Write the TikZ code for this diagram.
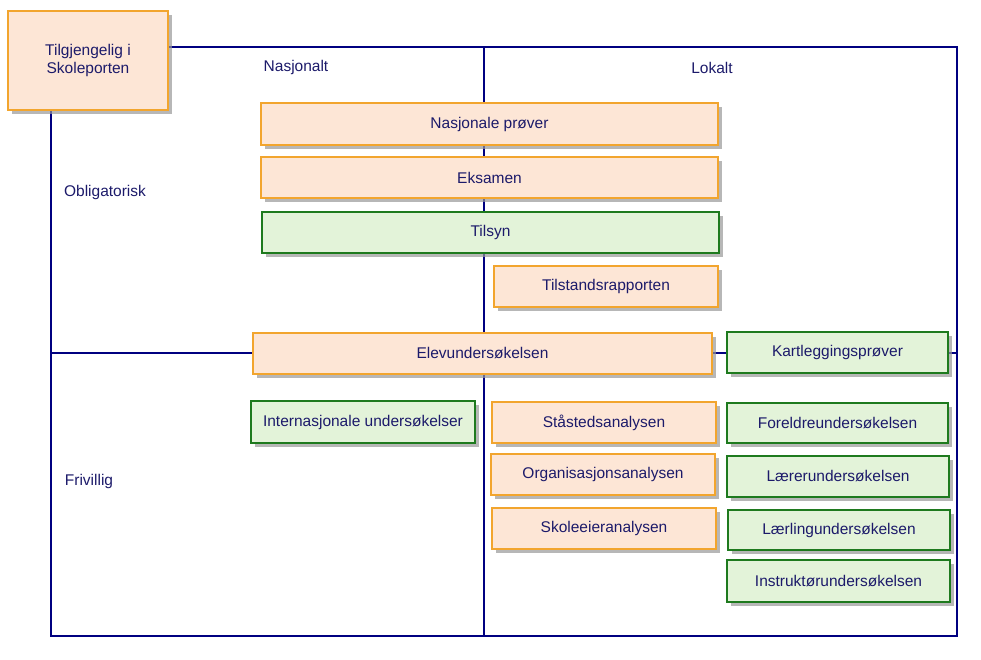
\documentclass[tikz,border=0pt]{standalone}
\usepackage{fontspec}
\setmainfont{Liberation Sans}
\usetikzlibrary{shadows}
\definecolor{navy}{HTML}{000080}
\definecolor{txt}{HTML}{1C1A6A}
\definecolor{ofill}{HTML}{FDE6D6}
\definecolor{oline}{HTML}{F2A52E}
\definecolor{gfill}{HTML}{E3F3D9}
\definecolor{gline}{HTML}{1E7A1E}
\begin{document}
\begin{tikzpicture}[x=1pt,y=-1pt,
  every node/.style={font=\fontsize{15.5}{18}\selectfont, text=txt},
  boxbase/.style={draw, line width=2pt, inner sep=0pt, anchor=north west,
    drop shadow={shadow xshift=4pt, shadow yshift=-4pt, fill=gray!80, opacity=0.7}},
  obox/.style={boxbase, fill=ofill, draw=oline},
  gbox/.style={boxbase, fill=gfill, draw=gline},
  lbl/.style={anchor=center},
  frame/.style={draw=navy, line width=2.2pt}]
\useasboundingbox (0,0) rectangle (981,659);
% frame
\coordinate (tl) at (51,47);
\coordinate (tr) at (957,47);
\coordinate (bl) at (51,636);
\coordinate (br) at (957,636);
\coordinate (mt) at (484,47);
\coordinate (mb) at (484,636);
\coordinate (ml) at (51,353);
\coordinate (mr) at (957,353);
\draw[frame] (tl) -- (tr) -- (br) -- (bl) -- cycle;
\draw[frame] (mt) -- (mb);
\draw[frame] (ml) -- (mr);
% labels
\node[lbl] (nas) at (296,67) {Nasjonalt};
\node[lbl] (lok) at (712,68) {Lokalt};
\node[lbl] (obl) at (105,192) {Obligatorisk};
\node[lbl] (fri) at (89,481) {Frivillig};
% boxes
\node[obox, minimum width=160pt, minimum height=99pt, align=center] (skp) at (7,10) {Tilgjengelig i\\Skoleporten};
\node[obox, minimum width=457pt, minimum height=42pt] (np) at (260,102) {Nasjonale prøver};
\node[obox, minimum width=457pt, minimum height=41pt] (eks) at (260,156) {Eksamen};
\node[gbox, minimum width=457pt, minimum height=41pt] (til) at (261,211) {Tilsyn};
\node[obox, minimum width=224pt, minimum height=41pt] (tsr) at (493,265) {Tilstandsrapporten};
\node[obox, minimum width=459pt, minimum height=41pt] (elev) at (252,332) {Elevundersøkelsen};
\node[gbox, minimum width=221pt, minimum height=41pt] (kart) at (726,331) {Kartleggingsprøver};
\node[gbox, minimum width=224pt, minimum height=42pt] (int) at (250,400) {Internasjonale undersøkelser};
\node[obox, minimum width=224pt, minimum height=41pt] (sta) at (491,401) {Ståstedsanalysen};
\node[obox, minimum width=224pt, minimum height=41pt] (org) at (490,453) {Organisasjonsanalysen};
\node[obox, minimum width=224pt, minimum height=41pt] (sko) at (491,507) {Skoleeieranalysen};
\node[gbox, minimum width=221pt, minimum height=40pt] (for) at (726,402) {Foreldreundersøkelsen};
\node[gbox, minimum width=222pt, minimum height=41pt] (lae) at (726,455) {Lærerundersøkelsen};
\node[gbox, minimum width=222pt, minimum height=40pt] (laer) at (727,509) {Lærlingundersøkelsen};
\node[gbox, minimum width=223pt, minimum height=42pt] (ins) at (726,559) {Instruktørundersøkelsen};
\end{tikzpicture}
\end{document}
